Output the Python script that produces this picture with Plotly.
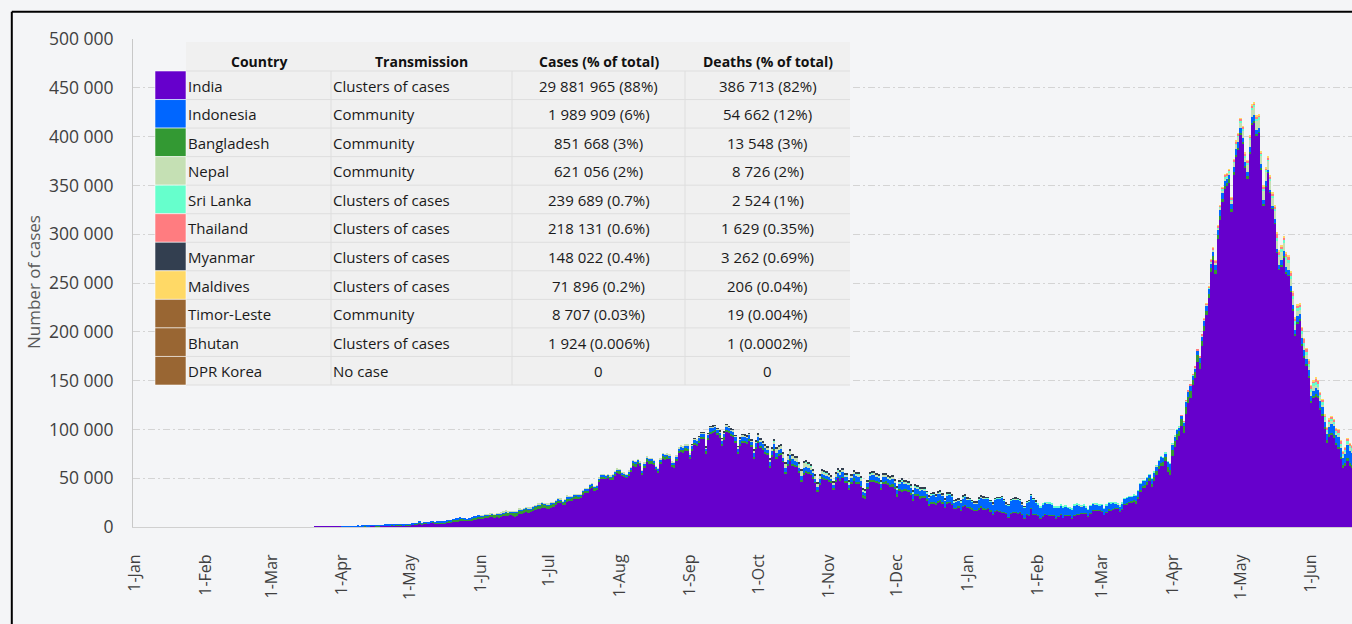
import pandas as pd
import plotly.graph_objects as go

# ---------------- DATA (daily new cases, thousands; one inner list per calendar month) -------------
india_start = "2020-03-01"
india_k = [
    [0,0,0,0,0,0,0,0,0,0, 0,0,0,0,0,0,0,0,0,0.1, 0.1,0.1,0.1,0.1,0.1,0.1,0.2,0.2,0.1,0.2, 0.3],
    [0.4,0.5,0.6,0.5,0.5,0.7,0.4,0.8,0.6,0.9, 1.0,0.9,0.8,1.2,1.1,0.9,1.0,1.4,1.3,1.5, 1.3,1.5,1.7,1.4,1.8,1.8,1.6,1.5,1.8,1.7],
    [1.9,2.3,2.5,2.6,3.9,2.7,3.5,3.4,3.3,4.2, 4.2,3.6,3.5,3.7,3.9,3.8,4.9,5.0,4.6,5.6, 5.6,6.1,6.6,6.8,6.8,6.4,6.4,6.6,7.3,8.0, 8.4],
    [8.4,8.2,8.9,9.3,9.8,9.9,9.6,10.4,9.5,9.9, 11.0,11.5,11.5,12.0,11.5,10.7,11.0,12.9,13.6,14.5, 15.4,14.8,14.9,15.9,17.0,18.6,18.6,19.9,19.5,18.5],
    [18.7,19.1,20.9,22.7,24.9,24.2,22.3,22.8,25.6,26.5, 27.1,28.6,28.7,28.5,29.4,32.7,34.9,34.9,38.9,40.4, 37.1,37.7,45.7,49.3,48.9,48.7,49.9,47.7,48.5,52.1, 55.1],
    [54.7,52.9,52.0,50.6,52.5,56.3,62.5,61.5,64.4,62.1, 53.6,60.9,66.9,64.6,65.0,63.5,57.9,55.1,64.5,69.7, 68.9,70.0,69.2,61.4,60.9,67.2,75.8,77.3,76.5,78.8, 78.5],
    [69.9,78.4,83.9,83.3,86.4,90.6,90.8,75.8,89.7,95.7, 96.6,97.6,94.4,92.1,83.8,90.1,97.9,96.4,93.3,92.6, 86.9,75.1,83.3,86.5,86.1,85.4,88.6,82.2,70.6,80.5],
    [86.8,81.5,79.5,75.8,74.4,61.3,72.0,78.5,70.5,73.3, 74.4,66.7,55.3,63.5,67.7,63.4,62.2,61.9,55.7,46.8, 54.0,55.8,54.4,53.4,50.1,45.1,36.5,43.9,49.9,48.6, 48.3],
    [46.9,45.2,38.3,46.3,50.2,47.6,50.4,45.7,45.9,38.1, 44.3,47.9,44.9,44.7,41.1,30.5,29.2,38.6,45.6,45.9, 46.2,45.2,44.1,37.9,44.4,44.5,43.1,41.3,41.8,38.8],
    [31.1,36.6,35.6,36.6,36.7,36.0,32.9,26.6,32.1,31.5, 29.4,30.0,30.3,27.1,22.1,24.0,24.0,22.9,25.2,26.6, 24.3,19.6,23.9,24.7,23.0,18.7,18.7,20.0,16.4,20.5, 21.8],
    [20.0,19.1,18.2,16.5,16.4,18.1,20.3,18.1,18.2,18.6, 16.3,12.6,15.9,16.9,15.6,15.2,15.1,13.8,10.1,13.8, 15.2,14.5,14.3,14.8,13.2,9.1,12.7,11.7,18.9,13.1, 13.0],
    [11.4,8.6,11.0,12.9,12.4,11.7,12.1,11.8,9.1,11.1, 12.9,9.3,12.1,12.2,11.6,9.1,11.6,12.9,13.2,13.9, 14.3,14.2,10.6,13.7,16.7,16.6,16.5,16.8],
    [15.5,12.3,14.9,17.4,16.8,18.3,18.7,18.6,15.4,17.9, 22.9,23.3,24.9,25.3,26.3,24.5,28.9,35.9,39.7,40.9, 43.8,46.9,40.7,47.3,53.5,59.1,62.3,62.7,68.0,56.2, 53.5],
    [72.3,81.5,89.1,93.2,103.6,96.6,115.7,126.8,131.9,145.4, 152.9,168.9,161.7,185.3,200.7,217.4,234.7,261.5,273.8,259.2, 295.0,314.8,332.7,346.8,349.7,352.9,323.1,360.9,379.3,386.5],
    [401.9,392.6,368.1,357.2,382.3,412.3,414.2,401.1,403.7,366.2, 329.9,348.4,362.7,343.1,326.1,311.2,281.4,263.5,267.3,276.1, 259.6,257.3,240.8,222.3,196.4,208.9,211.3,186.4,173.8,165.5, 153.0],
    [127.5,132.8,134.2,132.4,120.5,114.5,100.6,86.5,92.6,94.1, 91.7,84.3,80.8,70.4,60.5,62.2,67.2,62.5,60.8],
]

indonesia_start = "2020-04-01"
indonesia_k = [
    [0.1,0.1,0.2,0.1,0.2,0.2,0.2,0.2,0.3,0.2, 0.3,0.4,0.4,0.3,0.3,0.4,0.4,0.3,0.3,0.2, 0.4,0.3,0.4,0.4,0.4,0.3,0.2,0.4,0.3,0.3],
    [0.4,0.3,0.3,0.3,0.5,0.4,0.3,0.3,0.5,0.4, 0.2,0.5,0.7,0.6,0.5,0.5,0.5,0.5,0.5,0.7, 1.0,0.6,0.9,0.5,0.5,0.4,0.7,0.7,0.7,0.6, 0.7],
    [0.5,0.6,0.7,0.6,0.7,1.0,0.7,0.8,1.0,1.2, 1.0,1.1,0.9,0.9,1.0,1.1,1.0,1.3,1.0,1.2, 0.9,1.0,1.1,1.1,1.2,1.0,1.4,1.1,1.1,1.3],
    [1.0,1.6,1.3,1.4,1.6,1.2,1.2,1.9,2.7,1.6, 1.7,1.7,1.3,1.6,1.5,1.8,1.5,1.8,1.6,1.7, 1.7,1.9,1.9,1.8,1.9,1.3,1.5,1.7,2.4,1.9, 1.5],
    [1.6,1.5,1.7,1.9,1.8,1.8,2.5,2.3,1.9,1.7, 1.7,1.9,2.1,2.3,2.3,2.1,1.8,1.7,1.9,2.3, 2.2,2.1,2.0,2.1,2.4,2.3,2.7,3.0,3.3,3.0, 2.7],
    [2.8,3.1,3.6,3.3,3.4,3.4,3.0,3.0,3.3,3.9, 3.7,3.8,3.6,3.1,3.5,3.9,3.6,4.0,4.2,4.0, 4.2,4.1,4.5,4.6,4.8,4.5,4.5,3.5,4.0,4.2],
    [4.2,4.3,4.0,3.9,3.6,4.1,4.5,4.9,4.3,4.5, 4.5,3.3,3.9,4.1,4.4,4.3,4.3,4.1,3.4,3.6, 4.3,4.4,4.4,4.1,3.6,3.2,3.5,3.5,3.1,2.9, 2.7],
    [2.7,2.6,2.9,3.8,4.1,4.3,4.3,4.3,3.9,3.8, 3.9,4.2,5.4,5.4,4.9,3.8,3.8,4.3,4.8,4.8, 4.9,4.4,4.3,4.2,5.5,4.9,4.4,5.4,6.3,4.6],
    [5.1,5.5,8.4,5.8,6.0,6.1,5.8,5.3,6.1,6.0, 6.3,6.4,6.2,5.5,6.1,6.7,7.4,6.7,7.8,6.8, 6.8,6.3,7.5,6.9,7.0,6.0,6.5,5.9,7.9,8.0, 8.1],
    [7.2,7.6,6.9,6.8,7.0,8.9,9.3,10.6,10.0,9.6, 8.7,10.0,11.3,11.6,12.8,14.2,11.3,9.1,11.0,12.6, 12.0,13.6,13.1,11.8,9.9,10.0,11.9,13.7,13.0,14.5, 12.0],
    [10.9,10.6,11.9,11.4,11.7,12.2,10.8,8.2,10.1,8.8, 8.4,9.9,8.4,7.0,6.8,8.7,10.0,9.7,9.0,7.3, 7.3,5.7,6.4,7.5,6.5,6.5,6.2,5.0],
    [6.7,6.0,6.8,6.8,7.0,6.1,5.0,4.3,5.0,5.4, 5.4,5.5,5.0,4.7,4.3,5.4,6.3,6.0,5.4,4.8, 4.9,4.2,5.2,5.2,5.3,5.6,6.6,4.2,3.7,5.8, 5.8],
    [6.1,4.8,5.0,4.2,3.3,3.3,5.6,5.1,5.3,4.7, 4.1,4.4,5.7,4.9,5.6,5.1,5.5,5.1,4.6,5.5, 5.2,6.2,6.0,4.9,3.7,4.0,4.6,4.6,5.2,5.6],
    [4.9,4.6,3.6,4.4,5.0,6.1,5.8,4.7,3.9,3.9, 4.0,4.6,2.6,2.4,2.7,3.4,3.1,3.8,5.0,5.4, 5.4,5.3,5.0,3.3,4.3,5.6,5.1,5.9,5.8,5.3, 5.9],
    [4.8,5.0,6.1,6.0,6.6,6.3,5.3,6.3,7.7,8.9, 8.9,7.5,9.9,9.8,8.2,9.9,12.6,12.9,12.9],
]

bangladesh_start = "2020-04-01"
bangladesh_k = [
    [0,0,0,0,0,0,0,0.1,0.1,0.1, 0.1,0.1,0.2,0.2,0.2,0.3,0.3,0.3,0.3,0.5, 0.4,0.4,0.4,0.5,0.3,0.4,0.5,0.5,0.6,0.6],
    [0.6,0.6,0.7,0.7,0.8,0.8,0.8,0.7,0.6,0.9, 1.0,1.0,1.2,1.2,1.0,1.0,0.9,1.6,1.3,1.6, 1.7,1.9,1.9,1.5,1.0,1.2,1.5,2.0,2.5,1.8, 2.5],
    [2.4,2.9,2.7,2.4,2.8,2.6,2.7,2.7,3.2,3.2, 3.2,3.5,2.9,3.1,3.1,3.9,4.0,3.8,3.2,3.2, 3.5,3.5,3.4,3.5,3.9,3.9,3.5,4.0,3.7,3.7],
    [3.8,4.0,3.1,3.3,2.7,3.2,3.0,3.5,3.4,2.9, 2.7,2.7,3.1,3.2,2.7,3.2,3.0,2.5,2.7,2.5, 2.9,3.1,2.5,2.5,2.5,2.3,2.8,2.8,2.7,2.8, 2.7],
    [2.8,1.1,1.4,1.4,2.7,2.6,2.9,2.9,2.6,2.6, 2.6,2.6,2.6,2.9,2.6,2.5,2.2,2.9,3.0,3.1, 2.9,2.4,2.3,2.5,2.5,2.5,2.3,2.0,1.9,1.8, 1.9],
    [2.0,1.9,2.6,2.2,1.9,1.9,1.8,1.9,1.8,1.9, 1.8,1.5,1.5,1.8,1.6,1.7,1.6,1.6,1.5,1.5, 1.6,1.5,1.6,1.7,1.7,1.4,1.2,1.5,1.5,1.4],
    [1.5,1.4,1.3,1.1,1.3,1.5,1.4,1.3,1.4,1.2, 1.2,1.2,1.3,1.4,1.5,1.6,1.3,1.1,1.4,1.7, 1.7,1.7,1.6,1.4,1.3,1.2,1.5,1.6,1.5,1.6, 1.2],
    [1.4,1.5,1.6,1.5,1.5,1.4,1.2,1.1,1.3,1.5, 1.8,1.8,1.6,1.5,1.4,1.9,2.1,2.2,2.3,2.4, 2.3,1.8,1.8,2.1,2.2,2.5,2.3,1.9,2.0,2.5],
    [2.3,2.3,2.2,2.2,2.1,1.9,1.9,2.2,2.0,2.1, 2.0,1.6,1.4,1.9,1.9,1.7,1.5,1.3,1.2,1.3, 1.3,1.4,1.3,1.3,1.0,0.9,1.1,1.3,1.2,1.1, 1.0],
    [0.9,1.0,0.9,0.8,0.9,1.0,0.9,0.9,0.7,0.6, 0.7,0.8,0.7,0.7,0.7,0.6,0.5,0.5,0.6,0.6, 0.5,0.5,0.5,0.4,0.4,0.5,0.5,0.5,0.5,0.4, 0.4],
    [0.4,0.4,0.4,0.4,0.4,0.4,0.3,0.3,0.4,0.4, 0.4,0.3,0.3,0.3,0.3,0.4,0.4,0.4,0.3,0.3, 0.4,0.4,0.5,0.4,0.4,0.4,0.5,0.5],
    [0.6,0.5,0.6,0.6,0.6,0.6,0.6,0.6,0.8,0.9, 1.0,1.0,1.1,1.2,1.8,1.9,2.0,2.2,2.3,1.9, 1.9,2.8,3.6,3.6,3.6,3.1,3.0,3.9,4.0,5.2, 5.4],
    [6.5,6.8,5.7,5.0,7.1,7.2,7.6,6.9,7.5,5.3, 5.8,7.2,6.0,5.2,5.2,4.4,3.7,3.7,4.3,4.6, 4.3,3.9,3.6,2.7,2.7,3.3,3.0,2.9,2.3,2.2],
    [2.0,1.8,1.9,2.0,1.7,1.6,1.8,1.3,1.4,1.5, 1.5,1.2,0.7,0.3,0.3,0.5,0.7,1.0,1.3,1.5, 1.2,1.2,1.4,1.4,1.3,1.3,1.5,1.4,1.4,1.5, 1.7],
    [1.8,1.8,1.8,1.9,1.9,1.7,1.7,2.3,2.6,2.5, 2.5,2.1,1.6,1.6,2.6,3.0,3.8,3.2,3.0],
]

nepal_start = "2020-06-01"
nepal_k = [
    [0.2,0.2,0.3,0.2,0.3,0.3,0.3,0.3,0.4,0.3, 0.4,0.3,0.4,0.3,0.3,0.5,0.3,0.6,0.3,0.4, 0.4,0.3,0.5,0.3,0.3,0.3,0.4,0.2,0.2,0.3],
    [0.3,0.3,0.2,0.2,0.1,0.2,0.1,0.1,0.1,0.1, 0.1,0.1,0.1,0.1,0.1,0.1,0.1,0.1,0.1,0.1, 0.1,0.1,0.2,0.2,0.1,0.1,0.1,0.2,0.2,0.2, 0.2],
    [0.2,0.3,0.3,0.3,0.4,0.3,0.4,0.4,0.4,0.5, 0.3,0.4,0.4,0.6,0.6,0.5,0.6,0.6,0.7,0.6, 0.7,0.9,0.6,0.7,0.8,1.1,0.9,1.0,1.1,1.0, 1.1],
    [1.0,1.0,0.9,1.2,1.1,1.0,0.9,1.2,1.2,1.4, 1.3,1.2,1.1,1.3,1.4,1.4,1.5,1.2,1.3,1.4, 1.1,1.3,1.4,1.5,1.1,1.4,1.3,1.6,1.9,1.7],
    [2.1,2.2,2.2,2.2,2.0,2.1,2.5,3.4,3.9,3.0, 3.4,3.9,4.4,4.1,4.5,3.9,3.6,4.1,3.9,5.3, 5.7,4.4,3.6,3.3,2.8,3.1,2.8,3.4,3.2,2.9, 3.0],
    [2.6,2.1,2.6,2.8,2.5,2.8,2.8,2.2,2.1,2.7, 2.3,2.5,2.3,2.6,2.5,1.9,1.5,1.3,1.3,2.2, 2.3,2.4,2.0,1.8,1.6,1.8,1.8,1.5,1.5,1.4],
    [1.3,1.2,1.5,1.2,1.4,1.0,1.1,1.2,1.4,1.0, 1.0,1.0,0.8,0.9,1.0,0.9,0.9,0.9,0.8,0.7, 0.7,0.6,0.8,0.9,0.6,0.6,0.5,0.5,0.7,0.8, 0.6],
    [0.6,0.5,0.4,0.5,0.6,0.6,0.6,0.5,0.5,0.4, 0.4,0.4,0.4,0.4,0.3,0.3,0.3,0.3,0.3,0.3, 0.3,0.3,0.3,0.2,0.2,0.2,0.2,0.2,0.2,0.2, 0.2],
    [0.2,0.1,0.1,0.1,0.1,0.1,0.1,0.1,0.1,0.1, 0.1,0.1,0.1,0.1,0.1,0.1,0.1,0.1,0.1,0.1, 0.1,0.1,0.1,0.1,0.1,0.1,0.1,0.1],
    [0.1,0.1,0.1,0.1,0.1,0.1,0.1,0.1,0.1,0.1, 0.1,0.1,0.1,0.1,0.1,0.1,0.1,0.1,0.1,0.1, 0.1,0.1,0.1,0.1,0.1,0.1,0.1,0.1,0.1,0.1, 0.1],
    [0.2,0.2,0.2,0.2,0.2,0.3,0.3,0.3,0.3,0.3, 0.3,0.4,0.3,0.4,0.6,0.6,0.8,1.1,1.2,1.5, 1.7,2.0,2.6,2.8,2.5,3.0,3.6,4.6,5.0,5.6],
    [6.0,7.1,5.4,7.4,7.7,7.5,8.6,9.0,8.2,8.8, 9.3,9.1,8.7,8.6,8.2,8.8,8.1,8.1,8.3,7.6, 7.7,6.9,7.3,6.3,5.1,5.4,4.7,4.0,4.1,4.0, 3.4],
    [3.9,4.6,3.8,3.5,3.7,2.6,2.1,2.3,2.5,2.6, 2.2,2.1,1.9,1.4,1.8,2.3,2.2,2.0,1.8],
]

srilanka_start = "2020-10-01"
srilanka_k = [
    [0,0,0,0.1,0.1,0.1,0.1,0.1,0.1,0.1, 0.1,0.1,0.2,0.1,0.2,0.2,0.1,0.2,0.2,0.2, 0.3,0.3,0.6,0.4,0.4,0.4,0.3,0.3,0.6,0.6, 0.4],
    [0.4,0.4,0.4,0.4,0.4,0.4,0.3,0.4,0.4,0.4, 0.5,0.4,0.4,0.4,0.4,0.3,0.3,0.4,0.5,0.4, 0.3,0.4,0.3,0.3,0.5,0.5,0.6,0.5,0.6,0.5],
    [0.5,0.6,0.6,0.9,0.5,0.6,0.6,0.6,0.6,0.6, 0.6,0.6,0.7,0.5,0.6,0.6,0.6,0.6,0.6,0.7, 0.5,0.6,0.6,0.6,0.6,0.5,0.6,0.5,0.6,0.7, 0.6],
    [0.6,0.5,0.5,0.6,0.6,0.6,0.6,0.6,0.6,0.6, 0.6,0.6,0.7,0.7,0.7,0.7,0.7,0.7,0.8,0.8, 0.8,0.8,0.8,0.8,0.8,0.9,0.8,0.8,0.8,0.8, 0.9],
    [0.8,0.8,0.8,0.8,0.8,0.8,0.8,0.8,0.8,0.8, 0.9,0.9,0.8,0.8,0.8,0.8,0.6,0.6,0.6,0.5, 0.5,0.5,0.5,0.4,0.4,0.5,0.4,0.4],
    [0.3,0.3,0.3,0.3,0.3,0.3,0.3,0.3,0.3,0.3, 0.3,0.3,0.3,0.3,0.3,0.3,0.3,0.3,0.3,0.3, 0.3,0.3,0.3,0.3,0.3,0.2,0.2,0.2,0.2,0.2, 0.2],
    [0.2,0.2,0.2,0.2,0.2,0.2,0.2,0.2,0.2,0.2, 0.2,0.2,0.2,0.2,0.2,0.3,0.4,0.5,0.6,0.7, 0.9,1.0,1.1,1.0,1.0,1.1,1.0,1.5,1.5,1.5],
    [1.7,1.9,1.9,1.9,1.9,2.0,2.0,2.3,2.6,2.0, 2.6,2.5,2.3,2.4,2.3,2.3,2.5,2.8,3.0,3.3, 3.1,3.0,2.9,3.4,3.6,2.8,2.8,2.9,3.0,3.0, 3.0],
    [3.1,2.9,2.5,3.0,2.6,2.5,2.5,2.6,2.3,2.2, 2.3,2.2,2.2,2.0,2.0,1.9,1.9,2.1,2.0],
]

thailand_start = "2021-04-01"
thailand_k = [
    [0,0,0,0,0.1,0.1,0.1,0.2,0.3,0.6, 0.8,1.0,0.9,1.0,1.5,1.6,1.5,1.8,1.4,1.5, 1.5,1.5,2.1,2.8,2.4,2.2,2.0,1.9,1.9,1.6],
    [1.9,1.9,2.0,2.1,2.0,2.0,1.9,2.4,2.1,1.6, 1.9,1.9,1.5,2.1,2.2,2.1,5.0,3.0,2.4,2.5, 3.5,3.5,3.4,3.1,2.7,3.3,2.5,3.5,4.8,3.3, 4.0],
    [3.4,2.2,3.9,3.4,2.3,2.7,2.4,2.0,2.7,2.7, 2.6,2.3,3.3,3.2,2.1,2.3,3.1,3.1,3.3],
]

myanmar_start = "2020-09-01"
myanmar_k = [
    [0,0.1,0.1,0,0.1,0.1,0.1,0.1,0.1,0.1, 0.2,0.1,0.1,0.2,0.3,0.3,0.2,0.2,0.3,0.3, 0.4,0.5,0.5,0.4,0.7,0.7,0.6,0.8,0.9,0.7],
    [1.1,0.9,1.0,1.1,1.2,1.3,1.2,1.4,1.3,1.0, 1.2,1.1,1.5,1.6,1.4,1.7,1.5,1.3,1.3,1.3, 1.3,1.5,1.4,1.3,1.2,1.3,1.2,1.3,1.1,1.0, 1.0],
    [1.2,1.1,1.0,1.2,1.2,1.1,1.1,1.0,1.1,1.2, 1.4,1.5,1.5,1.6,1.6,1.2,1.3,1.5,1.6,1.5, 1.5,1.4,1.2,1.4,1.2,1.3,1.3,1.4,1.2,1.3],
    [1.2,1.1,1.2,1.1,1.1,1.0,0.9,1.0,1.0,0.9, 0.9,1.0,0.9,0.9,0.9,0.8,0.8,0.8,0.8,0.9, 0.7,0.8,0.8,0.7,0.7,0.6,0.7,0.6,0.6,0.7, 0.7],
    [0.5,0.5,0.5,0.5,0.5,0.6,0.5,0.5,0.5,0.5, 0.5,0.5,0.4,0.4,0.5,0.4,0.4,0.4,0.4,0.3, 0.3,0.3,0.3,0.3,0.3,0.3,0.3,0.3,0.3,0.3, 0.3],
]

maldives_start = "2021-04-01"
maldives_k = [
    [0,0,0,0,0,0,0,0,0,0, 0,0,0,0,0.1,0.1,0.1,0.1,0.2,0.2, 0.2,0.2,0.2,0.3,0.3,0.3,0.4,0.5,0.5,0.6],
    [0.6,0.7,0.6,0.8,0.7,0.9,0.9,1.1,1.1,1.3, 1.4,1.6,1.8,1.6,1.7,1.5,1.8,1.5,1.4,1.4, 1.3,1.3,1.1,1.0,1.0,0.9,0.8,0.7,0.7,0.6, 0.6],
    [0.5,0.4,0.4,0.4,0.4,0.3,0.3,0.3,0.3,0.3, 0.3,0.2,0.2,0.2,0.2,0.2,0.2,0.2,0.2],
]

# table contents
countries = ["India", "Indonesia", "Bangladesh", "Nepal", "Sri Lanka", "Thailand",
             "Myanmar", "Maldives", "Timor-Leste", "Bhutan", "DPR Korea"]
transmission = ["Clusters of cases", "Community", "Community", "Community", "Clusters of cases",
                "Clusters of cases", "Clusters of cases", "Clusters of cases", "Community",
                "Clusters of cases", "No case"]
cases_txt = ["29 881 965 (88%)", "1 989 909 (6%)", "851 668 (3%)", "621 056 (2%)", "239 689 (0.7%)",
             "218 131 (0.6%)", "148 022 (0.4%)", "71 896 (0.2%)", "8 707 (0.03%)", "1 924 (0.006%)", "0"]
deaths_txt = ["386 713 (82%)", "54 662 (12%)", "13 548 (3%)", "8 726 (2%)", "2 524 (1%)",
              "1 629 (0.35%)", "3 262 (0.69%)", "206 (0.04%)", "19 (0.004%)", "1 (0.0002%)", "0"]
country_colors = ["#6600CC", "#0066FF", "#339933", "#C5E0B4", "#66FFCC", "#FF7C80",
                  "#333F50", "#FFD966", "#996633", "#996633", "#996633"]
header = ["Country", "Transmission", "Cases (% of total)", "Deaths (% of total)"]

month_ticks = ["2020-01-01", "2020-02-01", "2020-03-01", "2020-04-01", "2020-05-01", "2020-06-01",
               "2020-07-01", "2020-08-01", "2020-09-01", "2020-10-01", "2020-11-01", "2020-12-01",
               "2021-01-01", "2021-02-01", "2021-03-01", "2021-04-01", "2021-05-01", "2021-06-01"]
month_labels = ["1-Jan", "1-Feb", "1-Mar", "1-Apr", "1-May", "1-Jun", "1-Jul", "1-Aug", "1-Sep",
                "1-Oct", "1-Nov", "1-Dec", "1-Jan", "1-Feb", "1-Mar", "1-Apr", "1-May", "1-Jun"]
y_ticks = [0, 50000, 100000, 150000, 200000, 250000, 300000, 350000, 400000, 450000, 500000]

# ---------------- build aligned daily series ----------------
def daily(start, months):
    first = pd.Timestamp(start)
    idx, vals = [], []
    for k, m in enumerate(months):
        m0 = first + pd.DateOffset(months=k)
        for i, v in enumerate(m):
            idx.append(m0 + pd.Timedelta(days=i))
            vals.append(v * 1000)
    return pd.Series(vals, index=pd.DatetimeIndex(idx))

all_days = pd.date_range("2020-03-01", "2021-06-19", freq="D")
stack = [
    ("India", india_start, india_k),
    ("Bangladesh", bangladesh_start, bangladesh_k),
    ("Indonesia", indonesia_start, indonesia_k),
    ("Nepal", nepal_start, nepal_k),
    ("Sri Lanka", srilanka_start, srilanka_k),
    ("Thailand", thailand_start, thailand_k),
    ("Myanmar", myanmar_start, myanmar_k),
    ("Maldives", maldives_start, maldives_k),
]
color_of = dict(zip(countries, country_colors))

fig = go.Figure()
xs = [d.strftime("%Y-%m-%d") for d in all_days]
for name, start, months in stack:
    s = daily(start, months)
    s = s[~s.index.duplicated()].reindex(all_days, fill_value=0)
    fig.add_trace(go.Bar(x=xs, y=s.values, name=name, marker=dict(color=color_of[name], line=dict(width=0)),
                         hoverinfo="skip"))

# ---------------- layout ----------------
W, H = 1352, 624
ML, MR, MT, MB = 133, 0, 39, 97
PW, PH = W - ML - MR, H - MT - MB
BG = "#f4f5f7"
FONT = "Open Sans"

def xp(px):
    return (px - ML) / PW

def yp(py):
    return (H - MB - py) / PH

shapes = []
annotations = []

# frame
shapes.append(dict(type="line", xref="paper", yref="paper", x0=xp(11.8), x1=xp(11.8), y0=yp(11.8), y1=yp(640),
                   line=dict(color="#000000", width=2), layer="above"))
shapes.append(dict(type="line", xref="paper", yref="paper", x0=xp(11.8), x1=xp(1370), y0=yp(11.8), y1=yp(11.8),
                   line=dict(color="#000000", width=2), layer="above"))

# table geometry
col_x = [155, 186, 331, 512, 685, 850]
tab_top, rows_top, tab_bot = 42, 71, 385
rh = (tab_bot - rows_top) / len(countries)
shapes.append(dict(type="rect", xref="paper", yref="paper", x0=xp(col_x[1]), x1=xp(col_x[5]),
                   y0=yp(tab_top), y1=yp(tab_bot), fillcolor="#f0f0f0", line=dict(width=0), layer="above"))
grid_c = "#dedede"
for i in range(len(countries) + 1):
    yy = rows_top + i * rh
    shapes.append(dict(type="line", xref="paper", yref="paper", x0=xp(col_x[1]), x1=xp(col_x[5]),
                       y0=yp(yy), y1=yp(yy), line=dict(color=grid_c, width=1), layer="above"))
for cx in col_x[2:5]:
    shapes.append(dict(type="line", xref="paper", yref="paper", x0=xp(cx), x1=xp(cx),
                       y0=yp(rows_top), y1=yp(tab_bot), line=dict(color=grid_c, width=1), layer="above"))
for i, c in enumerate(country_colors):
    shapes.append(dict(type="rect", xref="paper", yref="paper", x0=xp(col_x[0]), x1=xp(col_x[1]),
                       y0=yp(rows_top + i * rh), y1=yp(rows_top + (i + 1) * rh), fillcolor=c,
                       line=dict(color="rgba(255,255,255,0.55)", width=1), layer="above"))

txt_font = dict(family=FONT, size=15, color="#1a1a1a")
hdr_font = dict(family=FONT, size=14, color="#111111")
hdr_y = 61
for j, h in enumerate(header):
    cx = (col_x[j + 1] + col_x[j + 2]) / 2
    annotations.append(dict(xref="paper", yref="paper", x=xp(cx), y=yp(hdr_y), text="<b>" + h + "</b>",
                            showarrow=False, xanchor="center", yanchor="middle", font=hdr_font))
for i in range(len(countries)):
    yc = yp(rows_top + (i + 0.5) * rh + 0.5)
    annotations.append(dict(xref="paper", yref="paper", x=xp(col_x[1]), y=yc, text=countries[i],
                            showarrow=False, xanchor="left", yanchor="middle", font=txt_font))
    annotations.append(dict(xref="paper", yref="paper", x=xp(col_x[2]), y=yc, text=transmission[i],
                            showarrow=False, xanchor="left", yanchor="middle", font=txt_font))
    annotations.append(dict(xref="paper", yref="paper", x=xp((col_x[3] + col_x[4]) / 2), y=yc, text=cases_txt[i],
                            showarrow=False, xanchor="center", yanchor="middle", font=txt_font))
    annotations.append(dict(xref="paper", yref="paper", x=xp((col_x[4] + col_x[5]) / 2), y=yc, text=deaths_txt[i],
                            showarrow=False, xanchor="center", yanchor="middle", font=txt_font))

# y-axis title
annotations.append(dict(xref="paper", yref="paper", x=xp(33), y=yp(282), text="Number of cases", textangle=-90,
                        showarrow=False, xanchor="center", yanchor="middle",
                        font=dict(family=FONT, size=17, color="#595959")))

fig.update_layout(
    width=W, height=H,
    margin=dict(l=ML, r=MR, t=MT, b=MB, pad=0),
    paper_bgcolor=BG, plot_bgcolor=BG,
    barmode="stack", bargap=0,
    showlegend=False,
    separators=". ",
    font=dict(family=FONT, color="#404040"),
    shapes=shapes, annotations=annotations,
    hovermode=False,
    xaxis=dict(type="date", range=["2019-12-31 03:00", "2021-06-18 23:00"],
               tickmode="array", tickvals=month_ticks, ticktext=month_labels, tickangle=-90,
               tickfont=dict(family=FONT, size=16, color="#404040"),
               showgrid=False, zeroline=False, showline=True, linecolor="#d0d0d0", linewidth=1,
               ticks="", ticklabelstandoff=20, fixedrange=True),
    yaxis=dict(range=[0, 500000], tickmode="array", tickvals=y_ticks, tickformat=",d",
               tickfont=dict(family=FONT, size=17.5, color="#404040"),
               showgrid=True, gridcolor="#d4d4d4", gridwidth=1, griddash="7px,3px,2px,3px",
               zeroline=False, showline=True, linecolor="#c8c8c8", linewidth=1,
               ticks="", ticklabelstandoff=15, fixedrange=True),
)

page_fix = ("document.body.style.margin='0';document.body.style.padding='0';"
            "document.body.style.background='#f4f5f7';document.body.style.overflow='hidden';"
            "document.documentElement.style.background='#f4f5f7';")
fig.write_html("out.html", post_script=page_fix, config={"displayModeBar": False})
